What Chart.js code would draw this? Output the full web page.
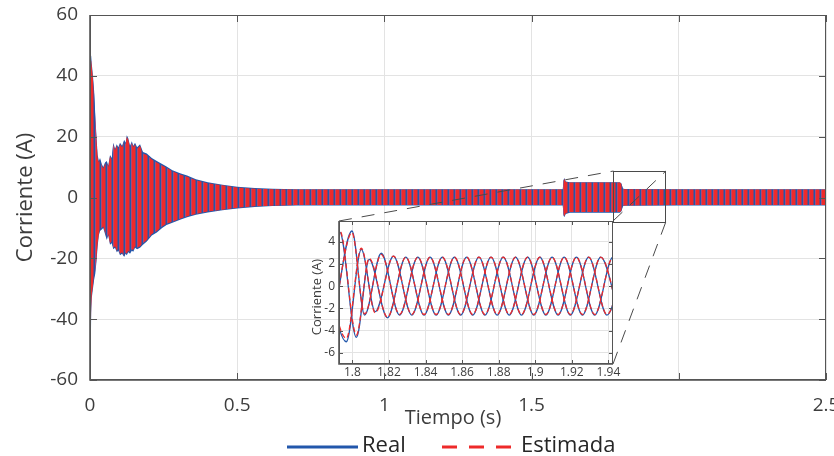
<!DOCTYPE html>
<html>
<head>
<meta charset="utf-8">
<script src="https://cdn.jsdelivr.net/npm/chart.js@4.4.1/dist/chart.umd.min.js"></script>
<style>
  body { margin: 0; background: #fff; }
  #wrap { position: relative; width: 834px; height: 456px; }
  #mainChart { position: absolute; left: 0; top: 0; }
  #zoomChart { position: absolute; left: 296px; top: 205px; }
</style>
</head>
<body>
<div id="wrap">
  <canvas id="mainChart" width="834" height="456"></canvas>
  <canvas id="zoomChart" width="336" height="180"></canvas>
</div>
<script>
// ---- main axes
const timeTicks = [0, 0.5, 1, 1.5, 2, 2.5];
const timeLabels = ['0', '0.5', '1', '1.5', '', '2.5'];
const currentTicks = [-60, -40, -20, 0, 20, 40, 60];

// envelope of the phase currents over the whole run (s / A)
const envTime = [0, 0.002, 0.004, 0.006, 0.010, 0.014, 0.018, 0.022, 0.026, 0.030, 0.034, 0.040, 0.045, 0.051, 0.057,
  0.062, 0.068, 0.074, 0.079, 0.085, 0.091, 0.096, 0.102, 0.109, 0.116, 0.121, 0.125, 0.130, 0.136, 0.142,
  0.147, 0.153, 0.160, 0.170, 0.180, 0.193, 0.210, 0.227, 0.245, 0.260, 0.280, 0.306, 0.330, 0.360, 0.400,
  0.450, 0.500, 0.560, 0.620, 0.700, 1.000, 1.300, 1.606, 1.608, 1.611, 1.616, 1.630, 1.800, 1.805, 1.810,
  1.816, 2.000, 2.500];
const realTop = [40, 47, 46.5, 44, 40, 35, 27, 20, 14, 12, 13, 11, 10, 11.5, 12,
  10.5, 14, 13, 18, 16, 17.5, 16.5, 18, 17, 19, 18, 20.5, 19.5, 17, 18.5,
  17, 18, 16.5, 17.5, 15, 14.5, 13, 12, 11, 10.2, 9, 8, 7.2, 6, 5,
  4.2, 3.5, 3.1, 2.9, 2.75, 2.7, 2.7, 2.7, 5.6, 6.4, 5.3, 5.0, 5.0, 4.6, 3.0,
  2.8, 2.7, 2.7];
const realBottom = [-40, -55, -38, -33, -30, -27, -25, -21, -16, -12.5, -11, -10.5, -10, -12, -14,
  -12.5, -15.5, -15, -17, -16.5, -18, -17.5, -19, -18.5, -19.5, -18.5, -19, -18, -18.5, -17.5,
  -17.8, -16.5, -17, -16.5, -15.5, -14.5, -12.5, -11.5, -10, -9, -8.3, -7.3, -6.5, -5.7, -4.9,
  -4.2, -3.6, -3.1, -2.8, -2.6, -2.6, -2.6, -2.6, -5.8, -6.5, -5.4, -5.0, -5.0, -4.5, -2.9,
  -2.7, -2.6, -2.6];
const estTop = [38, 45, 45, 43, 39, 34, 26, 19, 13, 11.5, 12.5, 10.5, 9.5, 11, 11.5,
  10, 13.5, 12.5, 17.5, 15.5, 17, 16, 17.5, 16.5, 18.5, 17.5, 20, 19, 16.5, 18,
  16.5, 17.5, 16, 17, 14.5, 14, 12.5, 11.5, 10.5, 9.8, 8.6, 7.6, 6.8, 5.7, 4.7,
  4.0, 3.3, 2.9, 2.7, 2.6, 2.6, 2.6, 2.6, 5.4, 6.1, 5.1, 4.9, 4.9, 4.5, 2.9,
  2.7, 2.6, 2.6];
const estBottom = [-38, -50, -36, -32, -29, -26, -24, -20, -15, -12, -10.5, -10, -9.5, -11.5, -13.5,
  -12, -15, -14.5, -16.5, -16, -17.5, -17, -18.5, -18, -19.5, -18, -18.5, -17.5, -18, -17,
  -17.3, -16, -16.5, -16, -15, -14, -12, -11, -9.5, -8.6, -8, -7, -6.2, -5.4, -4.6,
  -4.0, -3.4, -2.9, -2.7, -2.5, -2.5, -2.5, -2.5, -5.5, -6.2, -5.2, -4.8, -4.8, -4.4, -2.8,
  -2.6, -2.5, -2.5];

// region shown enlarged in the inset
const zoomBox = { t0: 1.778, t1: 1.956, lo: -8, hi: 8.7 };

// ---- inset axes
const zoomTicks = [1.8, 1.82, 1.84, 1.86, 1.88, 1.9, 1.92, 1.94];
const zoomLabels = ['1.8', '1.82', '1.84', '1.86', '1.88', '1.9', '1.92', '1.94'];
const zoomCurrentTicks = [-6, -4, -2, 0, 2, 4];

// inset: peaks and troughs of each phase (s / A)
const phaseATime = [1.7846, 1.7967, 1.8049, 1.8125, 1.8225, 1.8325, 1.8425, 1.8525, 1.8625, 1.8725,
  1.8825, 1.8925, 1.9025, 1.9125, 1.9225, 1.9325, 1.9425, 1.9525];
const phaseAReal = [2.0, -5.0, 3.3, -2.3, 2.7, -2.6, 2.6, -2.6, 2.6, -2.6, 2.6, -2.6, 2.6, -2.6, 2.6, -2.6, 2.6, -2.6];
const phaseAEst = [2.0, -4.7, 3.4, -2.4, 2.7, -2.55, 2.6, -2.55, 2.6, -2.55, 2.6, -2.55, 2.6, -2.55, 2.6, -2.55, 2.6, -2.55];

const phaseBTime = [1.7840, 1.7931, 1.8022, 1.8092, 1.8192, 1.8292, 1.8392, 1.8492, 1.8592, 1.8692,
  1.8792, 1.8892, 1.8992, 1.9092, 1.9192, 1.9292, 1.9392, 1.9492];
const phaseBReal = [-4.0, 4.85, -4.6, 2.4, -2.85, 2.6, -2.6, 2.6, -2.6, 2.6, -2.6, 2.6, -2.6, 2.6, -2.6, 2.6, -2.6, 2.6];
const phaseBEst = [-4.0, 5.0, -4.4, 2.5, -2.8, 2.6, -2.55, 2.6, -2.55, 2.6, -2.55, 2.6, -2.55, 2.6, -2.55, 2.6, -2.55, 2.6];

const phaseCTime = [1.7898, 1.7998, 1.8067, 1.8158, 1.8258, 1.8358, 1.8458, 1.8558, 1.8658, 1.8758,
  1.8858, 1.8958, 1.9058, 1.9158, 1.9258, 1.9358, 1.9458];
const phaseCReal = [-3.0, 4.95, -2.6, 2.95, -2.6, 2.6, -2.6, 2.6, -2.6, 2.6, -2.6, 2.6, -2.6, 2.6, -2.6, 2.6, -2.6];
const phaseCEst = [-2.8, 4.8, -2.5, 2.85, -2.55, 2.6, -2.55, 2.6, -2.55, 2.6, -2.55, 2.6, -2.55, 2.6, -2.55, 2.6, -2.55];

const blue = '#2257ab';
const red = '#ee2a2a';
const ink = '#3d3d3d';
const gridColor = '#e3e3e3';
const axisColor = '#555555';
const fontFamily = '"Open Sans", sans-serif';

function pairs(times, values) {
  return times.map((t, i) => ({ x: t, y: values[i] }));
}

// red/blue stripes used inside the dense oscillation band
function stripes() {
  const c = document.createElement('canvas');
  c.width = 6; c.height = 4;
  const g = c.getContext('2d');
  g.fillStyle = red; g.fillRect(0, 0, 6, 4);
  g.fillStyle = blue; g.fillRect(3.5, 0, 1.6, 4);
  g.fillStyle = '#b04a78'; g.fillRect(5.1, 0, 0.9, 4);
  return g.createPattern(c, 'repeat');
}

// box, inward ticks (MATLAB style)
function drawFrame(chart, tickLen) {
  const { ctx, chartArea: a, scales: { x, y } } = chart;
  ctx.save();
  ctx.strokeStyle = axisColor;
  ctx.lineWidth = 1;
  ctx.beginPath();
  x.ticks.forEach(tk => {
    const px = Math.round(x.getPixelForValue(tk.value)) + 0.5;
    ctx.moveTo(px, a.bottom); ctx.lineTo(px, a.bottom - tickLen);
    ctx.moveTo(px, a.top); ctx.lineTo(px, a.top + tickLen);
  });
  y.ticks.forEach(tk => {
    const py = Math.round(y.getPixelForValue(tk.value)) + 0.5;
    ctx.moveTo(a.left, py); ctx.lineTo(a.left + tickLen, py);
    ctx.moveTo(a.right, py); ctx.lineTo(a.right - tickLen, py);
  });
  ctx.stroke();
  ctx.strokeRect(Math.round(a.left) + 0.5, Math.round(a.top) + 0.5,
    Math.round(a.width) - 1, Math.round(a.height) - 1);
  ctx.lineWidth = 1.6;
  ctx.beginPath();
  ctx.moveTo(a.left, a.top); ctx.lineTo(a.left, a.bottom); ctx.lineTo(a.right, a.bottom);
  ctx.stroke();
  ctx.restore();
}

// fixed axis sizes so the plot box sits at a known place
function fixedAxes(yWidth, xHeight) {
  return {
    y: { afterFit: s => { s.width = yWidth; s.paddingTop = 0; s.paddingBottom = 0; } },
    x: { afterFit: s => { s.height = xHeight; s.paddingLeft = 0; s.paddingRight = 0; } }
  };
}

// ---------------- inset ----------------
const zoomFit = fixedAxes(43, 21);
const zoomChart = new Chart(document.getElementById('zoomChart'), {
  type: 'line',
  data: {
    datasets: [
      { label: 'Real A', data: pairs(phaseATime, phaseAReal), borderColor: blue, order: 1 },
      { label: 'Real B', data: pairs(phaseBTime, phaseBReal), borderColor: blue, order: 1 },
      { label: 'Real C', data: pairs(phaseCTime, phaseCReal), borderColor: blue, order: 1 },
      { label: 'Estimada A', data: pairs(phaseATime, phaseAEst), borderColor: red, borderDash: [5, 3], order: 0 },
      { label: 'Estimada B', data: pairs(phaseBTime, phaseBEst), borderColor: red, borderDash: [5, 3], order: 0 },
      { label: 'Estimada C', data: pairs(phaseCTime, phaseCEst), borderColor: red, borderDash: [5, 3], order: 0 }
    ]
  },
  options: {
    responsive: false,
    animation: false,
    devicePixelRatio: 1,
    layout: { padding: { left: 0, right: 19, top: 16, bottom: 0 } },
    elements: {
      point: { radius: 0 },
      line: { borderWidth: 1.3, cubicInterpolationMode: 'monotone', fill: false }
    },
    plugins: { legend: { display: false }, tooltip: { enabled: false } },
    scales: {
      x: {
        type: 'linear', min: 1.7927, max: 1.9425,
        afterBuildTicks: s => { s.ticks = zoomTicks.map(v => ({ value: v })); },
        afterFit: zoomFit.x.afterFit,
        grid: { color: gridColor, drawTicks: false },
        border: { display: false },
        ticks: {
          padding: 1, color: ink, font: { family: fontFamily, size: 12 },
          maxRotation: 0, autoSkip: false,
          callback: (v, i) => zoomLabels[i]
        }
      },
      y: {
        min: -7, max: 5.85,
        afterBuildTicks: s => { s.ticks = zoomCurrentTicks.map(v => ({ value: v })); },
        afterFit: zoomFit.y.afterFit,
        grid: { color: gridColor, drawTicks: false },
        border: { display: false },
        ticks: { padding: 4, color: ink, font: { family: fontFamily, size: 12 } }
      }
    }
  },
  plugins: [{
    id: 'zoomFrame',
    afterDraw(chart) {
      drawFrame(chart, 4);
      const ctx = chart.ctx;
      ctx.save();
      ctx.fillStyle = ink;
      ctx.font = '13px ' + fontFamily;
      ctx.textAlign = 'center';
      ctx.textBaseline = 'alphabetic';
      ctx.translate(25, 92);
      ctx.rotate(-Math.PI / 2);
      ctx.fillText('Corriente (A)', 0, 0);
      ctx.restore();
    }
  }]
});

// ---------------- main chart ----------------
const zoomCanvas = document.getElementById('zoomChart');
const insetLeft = zoomCanvas.offsetLeft;
const insetTop = zoomCanvas.offsetTop;

const mainFit = fixedAxes(90, 76);
const mainChart = new Chart(document.getElementById('mainChart'), {
  type: 'line',
  data: {
    datasets: [
      { label: 'Real', data: pairs(envTime, realTop), borderWidth: 0,
        backgroundColor: blue, fill: '+1', order: 1 },
      { label: 'Real', data: pairs(envTime, realBottom), borderWidth: 0,
        fill: false, order: 1 },
      { label: 'Estimada', data: pairs(envTime, estTop), borderWidth: 0,
        backgroundColor: stripes(), fill: '+1', order: 0 },
      { label: 'Estimada', data: pairs(envTime, estBottom), borderWidth: 0,
        fill: false, order: 0 }
    ]
  },
  options: {
    responsive: false,
    animation: false,
    devicePixelRatio: 1,
    layout: { padding: { left: 0, right: 8, top: 15, bottom: 0 } },
    elements: { point: { radius: 0 }, line: { tension: 0 } },
    plugins: { legend: { display: false }, tooltip: { enabled: false } },
    scales: {
      x: {
        type: 'linear', min: 0, max: 2.5,
        afterBuildTicks: s => { s.ticks = timeTicks.map(v => ({ value: v })); },
        afterFit: mainFit.x.afterFit,
        grid: { color: gridColor, drawTicks: false },
        border: { display: false },
        ticks: {
          padding: 14, color: ink, font: { family: fontFamily, size: 19 },
          maxRotation: 0, autoSkip: false,
          callback: (v, i) => timeLabels[i]
        }
      },
      y: {
        min: -60, max: 60,
        afterBuildTicks: s => { s.ticks = currentTicks.map(v => ({ value: v })); },
        afterFit: mainFit.y.afterFit,
        grid: { color: gridColor, drawTicks: false },
        border: { display: false },
        ticks: { padding: 12, color: ink, font: { family: fontFamily, size: 19 } }
      }
    }
  },
  plugins: [{
    id: 'mainFrame',
    afterDraw(chart) {
      drawFrame(chart, 7);
      const { ctx, scales: { x, y } } = chart;

      // rectangle around the enlarged region and its leader lines to the inset
      const bx0 = x.getPixelForValue(zoomBox.t0), bx1 = x.getPixelForValue(zoomBox.t1);
      const by0 = y.getPixelForValue(zoomBox.hi), by1 = y.getPixelForValue(zoomBox.lo);
      const ia = zoomChart.chartArea;
      const il = insetLeft + ia.left, ir = insetLeft + ia.right;
      const it = insetTop + ia.top, ib = insetTop + ia.bottom;
      ctx.save();
      ctx.strokeStyle = '#4a4a4a';
      ctx.lineWidth = 1;
      ctx.strokeRect(Math.round(bx0) + 0.5, Math.round(by0) + 0.5, Math.round(bx1 - bx0), Math.round(by1 - by0));
      ctx.setLineDash([13, 10]);
      ctx.beginPath();
      ctx.moveTo(il, it); ctx.lineTo(bx0, by0);
      ctx.moveTo(ir, it); ctx.lineTo(bx1, by0);
      ctx.moveTo(ir, ib); ctx.lineTo(bx1, by1);
      ctx.stroke();
      ctx.restore();

      // axis titles
      ctx.save();
      ctx.fillStyle = ink;
      ctx.font = '20px ' + fontFamily;
      ctx.textAlign = 'center';
      ctx.textBaseline = 'alphabetic';
      ctx.fillText('Tiempo (s)', 453, 423.5);
      ctx.font = '22px ' + fontFamily;
      ctx.translate(31.5, 197.5);
      ctx.rotate(-Math.PI / 2);
      ctx.fillText('Corriente (A)', 0, 0);
      ctx.restore();

      // legend
      ctx.save();
      ctx.lineWidth = 3;
      ctx.strokeStyle = blue;
      ctx.beginPath(); ctx.moveTo(287, 447); ctx.lineTo(358, 447); ctx.stroke();
      ctx.strokeStyle = red;
      ctx.setLineDash([15, 12]);
      ctx.beginPath(); ctx.moveTo(442, 447); ctx.lineTo(513, 447); ctx.stroke();
      ctx.fillStyle = '#262626';
      ctx.font = '22px ' + fontFamily;
      ctx.textBaseline = 'alphabetic';
      ctx.fillText('Real', 362, 452);
      ctx.fillText('Estimada', 521, 452);
      ctx.restore();
    }
  }]
});
</script>
</body>
</html>
